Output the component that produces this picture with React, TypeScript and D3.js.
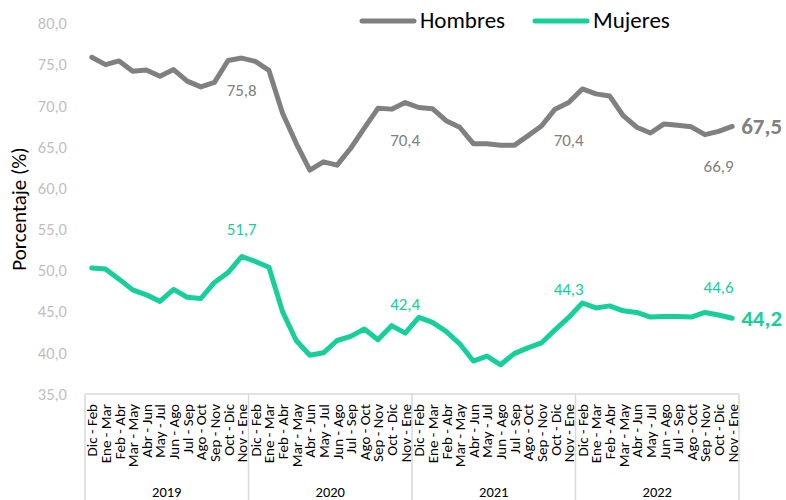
import React from "react";
import * as d3 from "d3";

const years = ["2019", "2020", "2021", "2022"];
const periods = [
  "Dic - Feb", "Ene - Mar", "Feb - Abr", "Mar - May", "Abr - Jun", "May - Jul",
  "Jun - Ago", "Jul - Sep", "Ago - Oct", "Sep - Nov", "Oct - Dic", "Nov - Ene",
];
const categories = years.flatMap((y) => periods.map((p) => `${y}|${p}`));

const hombres = [
  75.9, 75.0, 75.45, 74.2, 74.35, 73.6, 74.4, 73.0, 72.3, 72.85, 75.5, 75.8,
  75.4, 74.3, 69.1, 65.45, 62.2, 63.2, 62.8, 64.85, 67.3, 69.7, 69.6, 70.4,
  69.8, 69.65, 68.2, 67.4, 65.4, 65.4, 65.2, 65.2, 66.35, 67.55, 69.6, 70.4,
  72.05, 71.45, 71.2, 68.8, 67.4, 66.7, 67.8, 67.65, 67.45, 66.5, 66.9, 67.5,
];
const mujeres = [
  50.3, 50.17, 48.95, 47.65, 47.05, 46.25, 47.7, 46.75, 46.6, 48.55, 49.75, 51.7,
  51.1, 50.4, 45.0, 41.5, 39.7, 40.0, 41.5, 42.0, 42.9, 41.6, 43.3, 42.4,
  44.3, 43.7, 42.6, 41.1, 39.0, 39.6, 38.55, 39.9, 40.6, 41.2, 42.8, 44.3,
  46.05, 45.45, 45.7, 45.1, 44.9, 44.35, 44.4, 44.4, 44.35, 44.9, 44.6, 44.2,
];
const yTicks = [35, 40, 45, 50, 55, 60, 65, 70, 75, 80];
const hLabels = [
  { i: 11, dy: 38 },
  { i: 23, dy: 43 },
  { i: 35, dy: 43 },
  { i: 46, dy: 41 },
];
const mLabels = [
  { i: 11, dy: -22 },
  { i: 23, dy: -23 },
  { i: 35, dy: -22 },
  { i: 46, dy: -22 },
];

const GRAY = "#808080";
const TEAL = "#17CF9A";
const FONT = "Carlito, Calibri, Lato, 'Open Sans', sans-serif";

const fmt = (v: number) => v.toFixed(1).replace(".", ",");

export default function App() {
  const W = 786, H = 500;
  const left = 85, right = 739, top = 23.5, bottom = 394;
  const x = d3.scalePoint<string>().domain(categories).range([left, right]).padding(0.5);
  const y = d3.scaleLinear().domain([35, 80]).range([bottom, top]);
  const step = x.step();
  const line = d3
    .line<number>()
    .x((_, i) => x(categories[i]) as number)
    .y((d) => y(d));
  const groupW = step * periods.length;

  return (
    <svg
      width={W}
      height={H}
      style={{ position: "absolute", left: 0, top: 0, background: "#fff" }}
      fontFamily={FONT}
    >
      {yTicks.map((t) => (
        <text key={t} x={67} y={y(t)} dy="0.35em" textAnchor="end" fontSize={16.5} fill="#bfbfbf">
          {fmt(t)}
        </text>
      ))}
      <text
        transform={`translate(26,209) rotate(-90)`}
        textAnchor="middle"
        fontSize={21}
        fill="#000"
      >
        Porcentaje (%)
      </text>

      <line x1={left} x2={right} y1={bottom} y2={bottom} stroke="#d9d9d9" strokeWidth={1.5} />
      {d3.range(years.length + 1).map((g) => (
        <line
          key={g}
          x1={left + g * groupW}
          x2={left + g * groupW}
          y1={bottom}
          y2={H}
          stroke="#d9d9d9"
          strokeWidth={1.5}
        />
      ))}
      {categories.map((c) => (
        <text
          key={c}
          transform={`translate(${(x(c) as number) + 5.5},${bottom + 10}) rotate(-90)`}
          textAnchor="end"
          fontSize={15}
          fill="#000"
        >
          {c.split("|")[1]}
        </text>
      ))}
      {years.map((yr, g) => (
        <text key={yr} x={left + (g + 0.5) * groupW} y={497} textAnchor="middle" fontSize={14.5} fill="#000">
          {yr}
        </text>
      ))}

      <path d={line(hombres) || ""} fill="none" stroke={GRAY} strokeWidth={5} strokeLinejoin="round" strokeLinecap="round" />
      <path d={line(mujeres) || ""} fill="none" stroke={TEAL} strokeWidth={5} strokeLinejoin="round" strokeLinecap="round" />

      {hLabels.map(({ i, dy }) => (
        <text key={"h" + i} x={x(categories[i]) as number} y={y(hombres[i]) + dy} textAnchor="middle" fontSize={17} fill={GRAY}>
          {fmt(hombres[i])}
        </text>
      ))}
      {mLabels.map(({ i, dy }) => (
        <text key={"m" + i} x={x(categories[i]) as number} y={y(mujeres[i]) + dy} textAnchor="middle" fontSize={17} fill={TEAL}>
          {fmt(mujeres[i])}
        </text>
      ))}
      <text x={(x(categories[47]) as number) + 9} y={y(hombres[47]) + 8} fontSize={23} fontWeight="bold" fill={GRAY}>
        {fmt(hombres[47])}
      </text>
      <text x={(x(categories[47]) as number) + 9} y={y(mujeres[47]) + 8} fontSize={23} fontWeight="bold" fill={TEAL}>
        {fmt(mujeres[47])}
      </text>

      <line x1={362} x2={414} y1={21} y2={21} stroke={GRAY} strokeWidth={5} strokeLinecap="round" />
      <text x={420} y={28} fontSize={23} fill="#000">Hombres</text>
      <line x1={535} x2={587} y1={21} y2={21} stroke={TEAL} strokeWidth={5} strokeLinecap="round" />
      <text x={593} y={28} fontSize={23} fill="#000">Mujeres</text>
    </svg>
  );
}
